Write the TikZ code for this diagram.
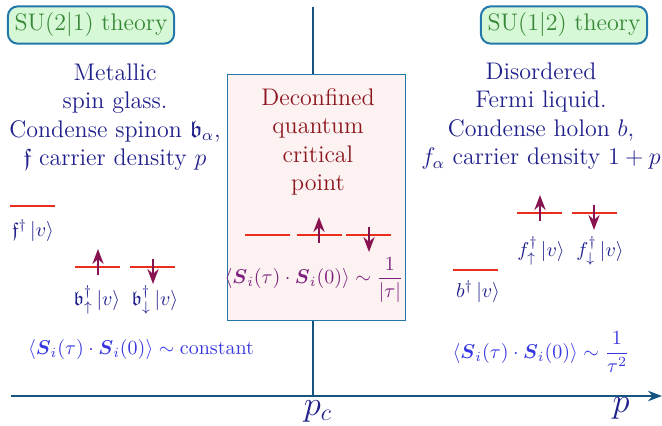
\documentclass[tikz,border=0pt]{standalone}
\usepackage{amsmath,amssymb}
\usetikzlibrary{arrows.meta}
\definecolor{axisblue}{RGB}{22,84,128}
\definecolor{txtblue}{RGB}{32,32,140}
\definecolor{fmlblue}{RGB}{55,55,225}
\definecolor{dqred}{RGB}{140,22,30}
\definecolor{dqpurple}{RGB}{125,32,125}
\definecolor{spinred}{RGB}{135,20,80}
\definecolor{levelred}{RGB}{235,45,30}
\definecolor{boxpink}{RGB}{253,242,242}
\definecolor{boxgreen}{RGB}{215,248,215}
\definecolor{boxedge}{RGB}{35,120,170}
\definecolor{txtgreen}{RGB}{55,135,55}

\begin{document}
\begin{tikzpicture}[x=0.5pt,y=-0.5pt,>=Stealth,every node/.style={font=\large},
  theory/.style={draw=boxedge,fill=boxgreen,rounded corners=5pt,line width=1pt,text=txtgreen,minimum width=78pt,minimum height=17pt},
  phase/.style={align=center,execute at begin node={\setlength{\baselineskip}{14.2pt}}},
  state/.style={txtblue,font=\normalsize}]
\useasboundingbox (0,0) rectangle (662,426);
% axes
\coordinate (top) at (313,7); \coordinate (pcp) at (313,396);
\coordinate (orig) at (11,396); \coordinate (pend) at (662,396);
\draw[axisblue,line width=1.3pt] (top)--(pcp);
\draw[-{Stealth[length=7pt]},axisblue,line width=1.3pt] (orig)--(pend);
\node[txtblue,font=\LARGE] (pc) at (318,411) {$p_c$};
\node[txtblue,font=\LARGE] (p) at (621,408) {$p$};
% theory boxes
\node[theory] (su21) at (91,25) {SU(2$|$1) theory};
\node[theory] (su12) at (564,25) {SU(1$|$2) theory};
% phases
\node[txtblue,phase] (msg) at (115,117) {Metallic\\spin glass.\\Condense spinon $\mathfrak{b}_\alpha$,\\$\mathfrak{f}$ carrier density $p$};
\node[txtblue,phase] (dfl) at (541,116) {Disordered\\Fermi liquid.\\Condense holon $b$,\\$f_\alpha$ carrier density $1+p$};
\node[draw=boxedge,fill=boxpink,minimum width=89pt,minimum height=123pt] (dqcp) at (316,197) {};
\node[dqred,phase] (dqtxt) at (318,142) {Deconfined\\quantum\\critical\\point};
% levels
\foreach \xa/\ya in {10/206,75/267,130/267,245/235,297/235,346/235,517/213,572/213,453/270}
  \draw[levelred,line width=1pt] (\xa,\ya)--++(45,0);
\foreach \xa/\ya in {98/267,319/235,540/213}
  \draw[->,spinred,line width=1pt] (\xa,\ya+8)--(\xa,\ya-18);
\foreach \xa/\ya in {153/267,369/235,594/213}
  \draw[->,spinred,line width=1pt] (\xa,\ya-8)--(\xa,\ya+17);
% states
\node[state] (fs) at (33,231) {$\mathfrak{f}^\dagger\,|v\rangle$};
\node[state] (bup) at (97,300) {$\mathfrak{b}^\dagger_\uparrow\,|v\rangle$};
\node[state] (bdn) at (155,300) {$\mathfrak{b}^\dagger_\downarrow\,|v\rangle$};
\node[state] (fup) at (541,251) {$f^\dagger_\uparrow\,|v\rangle$};
\node[state] (fdn) at (600,251) {$f^\dagger_\downarrow\,|v\rangle$};
\node[state] (bs) at (478,292) {$b^\dagger\,|v\rangle$};
% correlators
\node[fmlblue,font=\normalsize] (cl) at (141,350) {$\langle\boldsymbol{S}_i(\tau)\cdot\boldsymbol{S}_i(0)\rangle\sim\text{constant}$};
\node[dqpurple,font=\normalsize] (cm) at (314,280) {$\langle\boldsymbol{S}_i(\tau)\cdot\boldsymbol{S}_i(0)\rangle\sim\dfrac{1}{|\tau|}$};
\node[fmlblue,font=\normalsize] (cr) at (541,352) {$\langle\boldsymbol{S}_i(\tau)\cdot\boldsymbol{S}_i(0)\rangle\sim\dfrac{1}{\tau^2}$};
\end{tikzpicture}
\end{document}
